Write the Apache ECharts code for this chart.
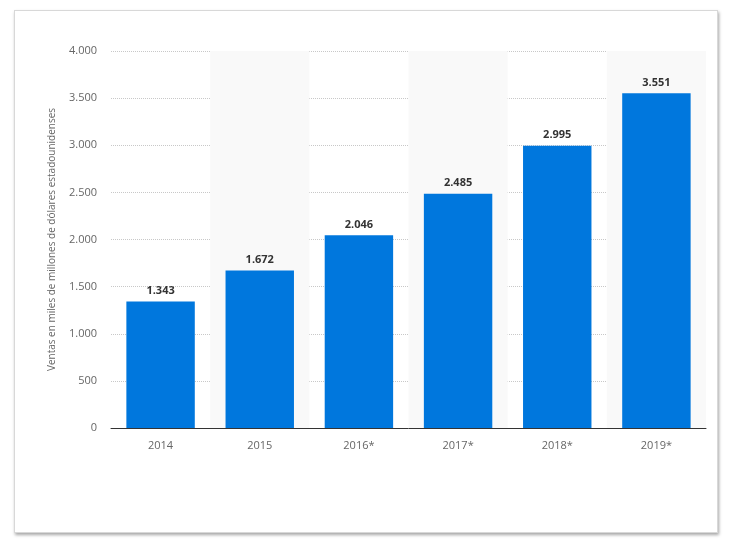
<!DOCTYPE html>
<html><head><meta charset="utf-8">
<script src="https://cdn.jsdelivr.net/npm/echarts@6/dist/echarts.min.js"></script>
<style>
html,body{margin:0;padding:0;background:#fff;width:732px;height:543px;overflow:hidden;}
#frame{position:absolute;left:14px;top:10px;width:702px;height:521px;border:1px solid #d8d8d8;box-shadow:1px 2px 3px rgba(0,0,0,0.35);background:#fff;}
#chart{position:absolute;left:0;top:0;width:732px;height:543px;}
</style></head>
<body>
<div id="frame"></div>
<div id="chart"></div>
<script>
const categories = ['2014', '2015', '2016*', '2017*', '2018*', '2019*'];
const sales = [1343, 1672, 2046, 2485, 2995, 3551];
const yTicks = { min: 0, max: 4000, interval: 500 };
const yName = 'Ventas en miles de millones de dólares estadounidenses';

const fmt = v => String(v).replace(/\B(?=(\d{3})+(?!\d))/g, '.');

const chart = echarts.init(document.getElementById('chart'), null, {renderer: 'canvas'});
chart.setOption({
  backgroundColor: 'transparent',
  animation: false,
  grid: { left: 111, right: 26, top: 51, bottom: 115 },
  xAxis: {
    type: 'category',
    data: categories,
    axisLine: { lineStyle: { color: '#333', width: 1 } },
    axisTick: { show: false },
    axisLabel: { color: '#666', fontSize: 11, fontFamily: 'Open Sans', margin: 12 },
    splitArea: { show: true, areaStyle: { color: ['rgba(255,255,255,0)', '#f9f9f9'] } }
  },
  yAxis: {
    type: 'value',
    min: yTicks.min, max: yTicks.max, interval: yTicks.interval,
    name: yName,
    nameLocation: 'middle',
    nameGap: 54,
    nameTextStyle: { color: '#666', fontSize: 10, fontFamily: 'Open Sans' },
    axisLine: { show: false },
    axisTick: { show: false },
    axisLabel: { color: '#666', fontSize: 11, fontFamily: 'Open Sans', margin: 14, formatter: v => fmt(v) },
    splitLine: { lineStyle: { color: '#c8c8c8', type: [1, 1], width: 1 } }
  },
  series: [{
    type: 'bar',
    data: sales,
    barWidth: '69%',
    itemStyle: { color: '#0077dd' },
    label: {
      show: true, position: 'top', distance: 5,
      color: '#333', fontSize: 11, fontWeight: 'bold', fontFamily: 'Open Sans',
      formatter: p => fmt(p.value)
    }
  }]
});
</script>
</body></html>
